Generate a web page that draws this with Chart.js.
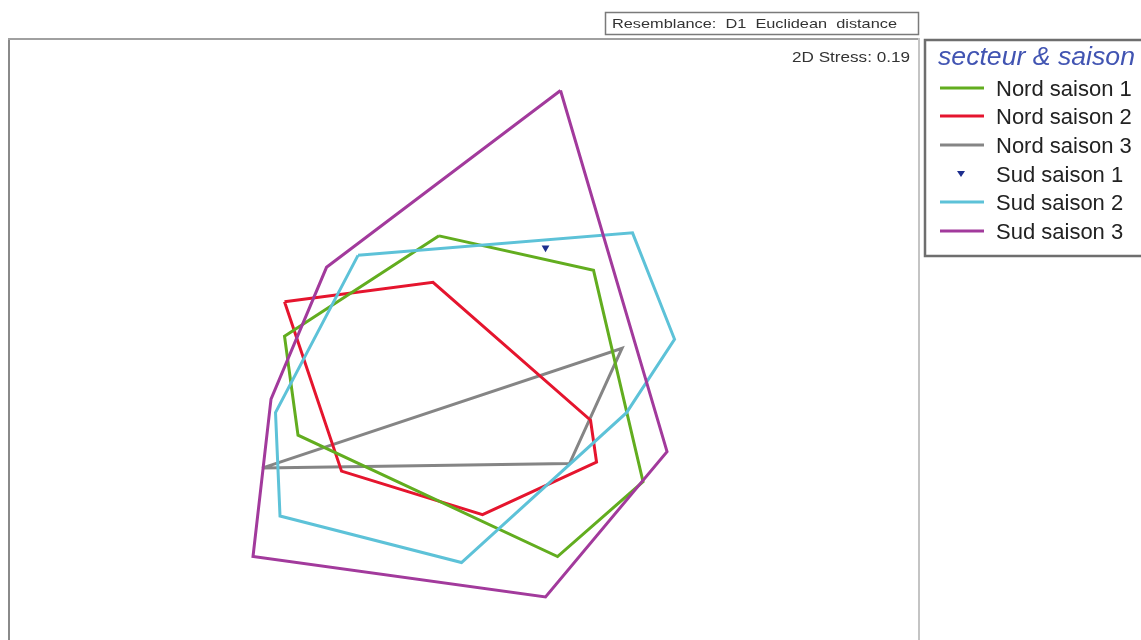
<!DOCTYPE html>
<html>
<head>
<meta charset="utf-8">
<script src="https://cdn.jsdelivr.net/npm/chart.js@4.4.1/dist/chart.umd.min.js"></script>
<style>
  html, body { margin: 0; padding: 0; background: #ffffff; }
  #wrap { width: 1141px; height: 640px; position: relative; }
</style>
</head>
<body>
<div id="wrap"><canvas id="c" width="1141" height="640"></canvas></div>
<script>
// nMDS coordinates (convex hull vertices per group)
const nordSaison1X = [-0.14, 0.89, 1.22, 0.65, -1.08, -1.17];
const nordSaison1Y = [0.76, 0.53, -0.88, -1.38, -0.57, 0.09];

const nordSaison2X = [-1.17, -0.18, 0.87, 0.91, 0.15, -0.79];
const nordSaison2Y = [0.32, 0.45, -0.47, -0.75, -1.10, -0.81];

const nordSaison3X = [-1.32, 1.08, 0.73];
const nordSaison3Y = [-0.79, 0.01, -0.76];

const sudSaison1X = [0.57];
const sudSaison1Y = [0.68];

const sudSaison2X = [-0.68, 1.15, 1.43, 1.11, 0.01, -1.20, -1.23];
const sudSaison2Y = [0.63, 0.78, 0.07, -0.42, -1.42, -1.11, -0.42];

const sudSaison3X = [0.67, 1.38, 0.57, -1.38, -1.26, -0.89];
const sudSaison3Y = [1.73, -0.68, -1.65, -1.38, -0.33, 0.55];

const groupLabels = ["Nord saison 1", "Nord saison 2", "Nord saison 3", "Sud saison 1", "Sud saison 2", "Sud saison 3"];
const legendTitle = "secteur & saison";
const resemblanceText = "Resemblance:  D1  Euclidean  distance";
const stressText = "2D Stress: 0.19";

const colors = ["#62ad1f", "#e5152e", "#858585", "#1d2e8e", "#5dc2d8", "#a23a9c"];

function hull(xs, ys) {
  const pts = xs.map((x, i) => ({ x: x, y: ys[i] }));
  if (pts.length > 1) pts.push({ x: xs[0], y: ys[0] });
  return pts;
}

const polys = [
  hull(nordSaison1X, nordSaison1Y),
  hull(nordSaison2X, nordSaison2Y),
  hull(nordSaison3X, nordSaison3Y),
  hull(sudSaison1X, sudSaison1Y),
  hull(sudSaison2X, sudSaison2Y),
  hull(sudSaison3X, sudSaison3Y)
];

const drawOrder = [5, 4, 0, 1, 2, 3];
const datasets = drawOrder.map(i => {
  const isPoint = polys[i].length === 1;
  return {
    label: groupLabels[i],
    data: polys[i],
    showLine: !isPoint,
    borderColor: colors[i],
    backgroundColor: colors[i],
    borderWidth: 3,
    fill: false,
    tension: 0,
    pointRadius: isPoint ? 4.5 : 0,
    pointStyle: 'triangle',
    rotation: 180,
    pointBorderWidth: 0,
    borderJoinStyle: 'miter'
  };
});

function fitText(ctx, text, x, y, width, align) {
  const w = ctx.measureText(text).width;
  const s = width / w;
  ctx.save();
  const left = align === 'right' ? x - width : x;
  ctx.translate(left, y);
  ctx.scale(s, 1);
  ctx.textAlign = 'left';
  ctx.fillText(text, 0, 0);
  ctx.restore();
}

const decor = {
  id: 'decor',
  afterDraw(chart) {
    const ctx = chart.ctx;
    const a = chart.chartArea;
    ctx.save();
    // plot frame
    ctx.strokeStyle = '#8a8a8a';
    ctx.lineWidth = 2;
    ctx.beginPath();
    ctx.moveTo(a.left - 1, 640);
    ctx.lineTo(a.left - 1, a.top - 1);
    ctx.stroke();
    ctx.strokeStyle = '#a0a0a0';
    ctx.beginPath();
    ctx.moveTo(a.left - 2, a.top - 1);
    ctx.lineTo(a.right + 1, a.top - 1);
    ctx.stroke();
    ctx.strokeStyle = '#c4c4c4';
    ctx.beginPath();
    ctx.moveTo(a.right + 1, a.top - 2);
    ctx.lineTo(a.right + 1, 640);
    ctx.stroke();

    // resemblance box
    ctx.strokeStyle = '#7a7a7a';
    ctx.lineWidth = 1.5;
    ctx.strokeRect(605.5, 12.5, 313, 22);
    ctx.fillStyle = '#333';
    ctx.font = '13px "Liberation Sans", Arial, sans-serif';
    ctx.textBaseline = 'alphabetic';
    fitText(ctx, resemblanceText, 612, 28, 285, 'left');

    // stress
    ctx.font = '15px "Liberation Sans", Arial, sans-serif';
    fitText(ctx, stressText, 910, 62, 118, 'right');

    // legend box
    ctx.strokeStyle = '#6e6e6e';
    ctx.lineWidth = 2.5;
    ctx.beginPath();
    ctx.moveTo(1141, 40);
    ctx.lineTo(925, 40);
    ctx.lineTo(925, 256);
    ctx.lineTo(1141, 256);
    ctx.stroke();

    ctx.fillStyle = '#4154b2';
    ctx.font = 'italic 25px "Liberation Sans", Arial, sans-serif';
    fitText(ctx, legendTitle, 938, 65, 197, 'left');

    const rowY = [88, 116, 145, 174, 202, 231];
    ctx.font = '22px "Liberation Sans", Arial, sans-serif';
    for (let i = 0; i < groupLabels.length; i++) {
      const y = rowY[i];
      if (i === 3) {
        ctx.fillStyle = colors[i];
        ctx.beginPath();
        ctx.moveTo(957, y - 3);
        ctx.lineTo(965, y - 3);
        ctx.lineTo(961, y + 3);
        ctx.closePath();
        ctx.fill();
      } else {
        ctx.strokeStyle = colors[i];
        ctx.lineWidth = 3;
        ctx.beginPath();
        ctx.moveTo(940, y);
        ctx.lineTo(984, y);
        ctx.stroke();
      }
      ctx.fillStyle = '#222';
      ctx.fillText(groupLabels[i], 996, y + 8);
    }
    ctx.restore();
  }
};

new Chart(document.getElementById('c'), {
  type: 'scatter',
  data: { datasets: datasets },
  options: {
    responsive: false,
    animation: false,
    layout: { padding: { left: 10, right: 223, top: 40, bottom: 0 } },
    plugins: { legend: { display: false }, tooltip: { enabled: false } },
    scales: {
      x: { type: 'linear', display: false, min: -3.0, max: 3.053 },
      y: { type: 'linear', display: false, min: -1.907, max: 2.067 }
    }
  },
  plugins: [decor]
});
</script>
</body>
</html>
